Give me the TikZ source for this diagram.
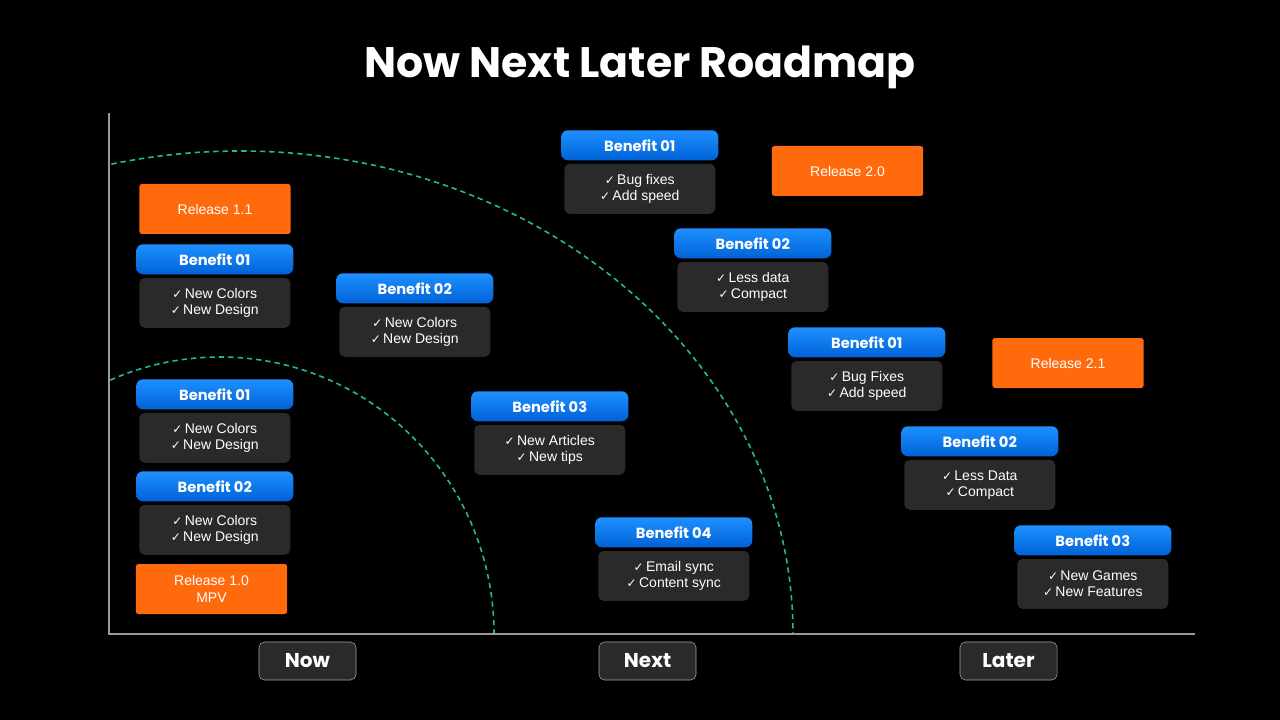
\documentclass[tikz,border=0pt]{standalone}
\usepackage{fontspec}
\setmainfont{Liberation Sans}
\newfontfamily\pop{Poppins}
\newfontfamily\dvs{DejaVu Sans}
\usetikzlibrary{positioning}
\definecolor{cardbg}{HTML}{2A2A2A}
\definecolor{oran}{HTML}{FF6A0D}
\definecolor{blueT}{HTML}{1E90FF}
\definecolor{blueB}{HTML}{0062D6}
\definecolor{teal}{HTML}{1FB89A}
\newcommand{\ck}{{\dvs\fontsize{9}{10}\selectfont ✓}\,}
\tikzset{
  hdr/.style={rounded corners=5pt,top color=blueT,bottom color=blueB,minimum width=117.75pt,minimum height=22.5pt,inner sep=0pt,text=white,font=\pop\bfseries\fontsize{11}{12}\selectfont},
  bod/.style={fill=cardbg,rounded corners=4pt,minimum width=113.25pt,minimum height=37.5pt,inner sep=0pt,text=white,align=center,font=\fontsize{10.5}{12}\selectfont},
  rel/.style={fill=oran,rounded corners=2pt,minimum width=113.5pt,minimum height=37.5pt,inner sep=0pt,text=white,align=center,font=\fontsize{10.5}{13}\selectfont},
  lbl/.style={fill=cardbg,draw=gray!70,rounded corners=4pt,minimum width=72.75pt,minimum height=28.5pt,inner sep=0pt,text=white,font=\pop\bfseries\fontsize{15}{16}\selectfont},
  arc/.style={teal,dashed,line width=1.2pt,dash pattern=on 4pt off 3pt}
}
\newcommand{\card}[5]{%
  \node[hdr,anchor=north west] (#1h) at (#2,#3) {#4};
  \node[bod,anchor=north] (#1b) at ([yshift=-2.25pt]#1h.south) {#5};}
\begin{document}
\begin{tikzpicture}[x=0.75pt,y=-0.75pt]
\fill[black] (0,0) rectangle (1280,720);
\useasboundingbox (0,0) rectangle (1280,720);
\node[text=white,font=\pop\bfseries\fontsize{32}{36}\selectfont] (title) at (640,67) {Now Next Later Roadmap};
\begin{scope}
\clip (109,100) rectangle (1200,634);
\draw[arc] (240,634) ellipse [x radius=553, y radius=483];
\draw[arc] (220,634) ellipse [x radius=274, y radius=277];
\end{scope}
\coordinate (ytop) at (109,113);
\coordinate (orig) at (109,634);
\coordinate (xend) at (1195,634);
\draw[gray!80,line width=1pt] (ytop) -- (orig) -- (xend);
\card{a}{136}{244}{Benefit 01}{\ck New Colors\\ \ck New Design}
\card{b}{336}{273}{Benefit 02}{\ck New Colors\\ \ck New Design}
\card{c}{136}{379}{Benefit 01}{\ck New Colors\\ \ck New Design}
\card{d}{136}{471}{Benefit 02}{\ck New Colors\\ \ck New Design}
\card{e}{471}{391}{Benefit 03}{\ck New Articles\\ \ck New tips}
\card{f}{595}{517}{Benefit 04}{\ck Email sync\\ \ck Content sync}
\card{g}{561}{130}{Benefit 01}{\ck Bug fixes\\ \ck Add speed}
\card{h}{674}{228}{Benefit 02}{\ck Less data\\ \ck Compact}
\card{i}{788}{327}{Benefit 01}{\ck Bug Fixes\\ \ck Add speed}
\card{j}{901}{426}{Benefit 02}{\ck Less Data\\ \ck Compact}
\card{k}{1014}{525}{Benefit 03}{\ck New Games\\ \ck New Features}
\node[rel] (r11) at (215,209) {Release 1.1};
\node[rel] (r20) at (847.5,171) {Release 2.0};
\node[rel] (r21) at (1068,363) {Release 2.1};
\node[rel] (r10) at (211.5,589) {Release 1.0\\MPV};
\node[lbl] (now) at (307.5,661) {Now};
\node[lbl] (next) at (647.5,661) {Next};
\node[lbl] (later) at (1008.5,661) {Later};
\end{tikzpicture}
\end{document}
